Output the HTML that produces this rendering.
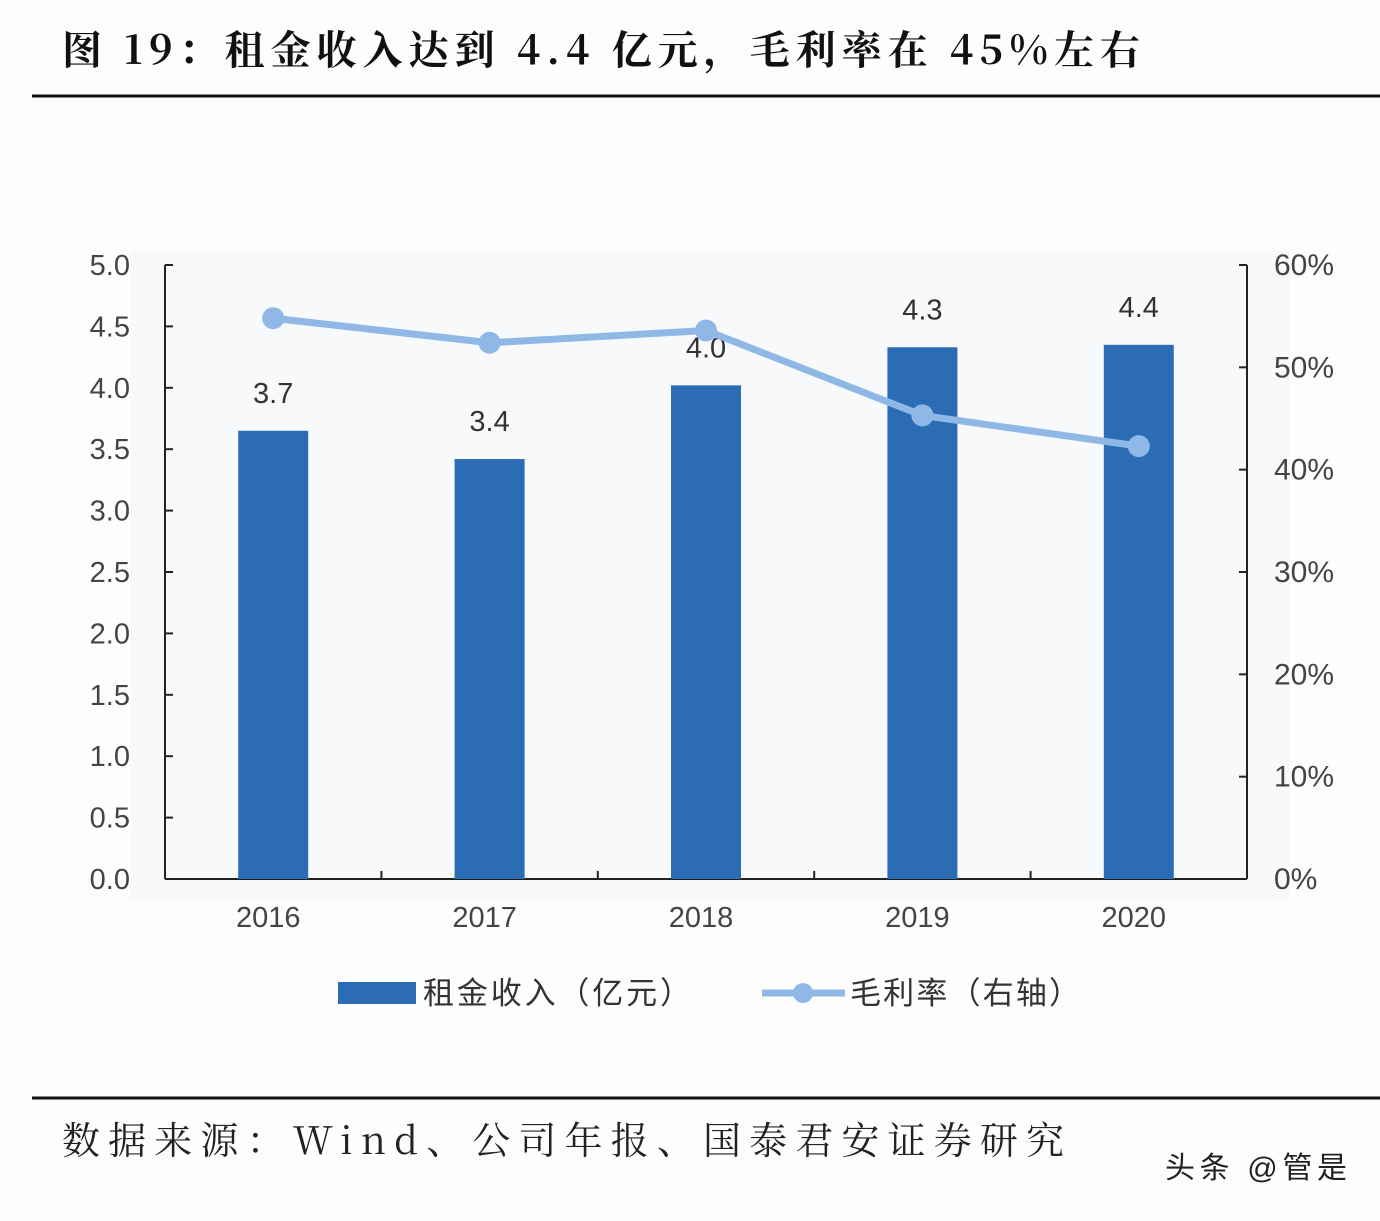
<!DOCTYPE html>
<html><head><meta charset="utf-8"><style>
body{margin:0;width:1380px;height:1216px;background:#fdfdfe;overflow:hidden;font-family:"Liberation Sans","Noto Sans CJK SC",sans-serif;}
</style></head><body>
<svg id="chart" width="1380" height="1216" viewBox="0 0 1380 1216" xmlns="http://www.w3.org/2000/svg">
<rect x="0" y="0" width="1380" height="1216" fill="#fdfdfe"/>
<text x="62" y="64" font-size="40" font-weight="bold" fill="#111" textLength="1078" lengthAdjust="spacing" font-family="'Noto Serif CJK SC','Liberation Serif',serif">图 19：租金收入达到 4.4 亿元，毛利率在 45%左右</text>
<line x1="32" y1="96" x2="1380" y2="96" stroke="#111" stroke-width="3"/>
<rect x="130" y="250" width="1160" height="650" fill="#f8f9fb"/>
<g id="plot"></g>
<rect x="338" y="982" width="78" height="22" fill="#2b6cb5"/>
<text x="423" y="1004" font-size="31" fill="#333" textLength="268" lengthAdjust="spacing">租金收入（亿元）</text>
<line x1="762" y1="993" x2="845" y2="993" stroke="#8fb8e6" stroke-width="7"/>
<circle cx="803" cy="993" r="10" fill="#8fb8e6"/>
<text x="850" y="1004" font-size="31" fill="#333" textLength="230" lengthAdjust="spacing">毛利率（右轴）</text>
<line x1="32" y1="1098" x2="1380" y2="1098" stroke="#111" stroke-width="3"/>
<text x="62" y="1154" font-size="38" fill="#222" textLength="1002" lengthAdjust="spacing" font-family="'Noto Serif CJK SC','Liberation Serif',serif">数据来源：Wind、公司年报、国泰君安证券研究</text>
<text x="1165" y="1178" font-size="30" fill="#222" textLength="182" lengthAdjust="spacing">头条 @管是</text>
</svg>
<script>
const categories=["2016","2017","2018","2019","2020"];
const revenue=[3.65,3.42,4.02,4.33,4.35];
const revenueLabels=["3.7","3.4","4.0","4.3","4.4"];
const margin=[54.8,52.4,53.6,45.3,42.3];
const leftTicks=["0.0","0.5","1.0","1.5","2.0","2.5","3.0","3.5","4.0","4.5","5.0"];
const rightTicks=["0%","10%","20%","30%","40%","50%","60%"];
const NS="http://www.w3.org/2000/svg";
const g=document.getElementById("plot");
const X0=165,X1=1247,Y0=879,Y1=265;
const yL=v=>Y0-(v/5)*(Y0-Y1);
const yR=v=>Y0-(v/60)*(Y0-Y1);
const bw=(X1-X0)/categories.length;
const xC=i=>X0+bw*(i+0.5);
function mk(t,a){const e=document.createElementNS(NS,t);for(const k in a)e.setAttribute(k,a[k]);g.appendChild(e);return e;}
let e;
e=mk("line",{x1:X0,y1:Y1,x2:X0,y2:Y0,stroke:"#222","stroke-width":2});


e=mk("line",{x1:X1,y1:Y1,x2:X1,y2:Y0,stroke:"#222","stroke-width":2});


e=mk("line",{x1:X0,y1:Y0,x2:X1,y2:Y0,stroke:"#222","stroke-width":2});


leftTicks.forEach(t=>{const y=yL(parseFloat(t));
e=mk("line",{x1:X0,y1:y,x2:X0+8,y2:y,stroke:"#222","stroke-width":2});


e=mk("text",{x:130,y:y+10,"font-size":29,fill:"#444","text-anchor":"end"});e.textContent=t;

});
rightTicks.forEach(t=>{const y=yR(parseFloat(t));
e=mk("line",{x1:X1-8,y1:y,x2:X1,y2:y,stroke:"#222","stroke-width":2});


e=mk("text",{x:1274,y:y+10,"font-size":30,fill:"#444"});e.textContent=t;

});
for(let i=1;i<categories.length;i++){
e=mk("line",{x1:X0+bw*i,y1:Y0,x2:X0+bw*i,y2:Y0-8,stroke:"#222","stroke-width":2});

}
categories.forEach((c,i)=>{
e=mk("rect",{x:xC(i)-35,y:yL(revenue[i]),width:70,height:Y0-yL(revenue[i]),fill:"#2b6cb5"});


e=mk("text",{x:xC(i),y:yL(revenue[i])-28,"font-size":29,fill:"#333","text-anchor":"middle"});e.textContent=revenueLabels[i];


e=mk("text",{x:xC(i)-5,y:927,"font-size":29,fill:"#444","text-anchor":"middle"});e.textContent=c;

});
e=mk("polyline",{points:margin.map((v,i)=>xC(i)+","+yR(v)).join(" "),fill:"none",stroke:"#8fb8e6","stroke-width":7,"stroke-linejoin":"round"});


margin.forEach((v,i)=>{
e=mk("circle",{cx:xC(i),cy:yR(v),r:11,fill:"#8fb8e6"});

});
</script>
</body></html>
